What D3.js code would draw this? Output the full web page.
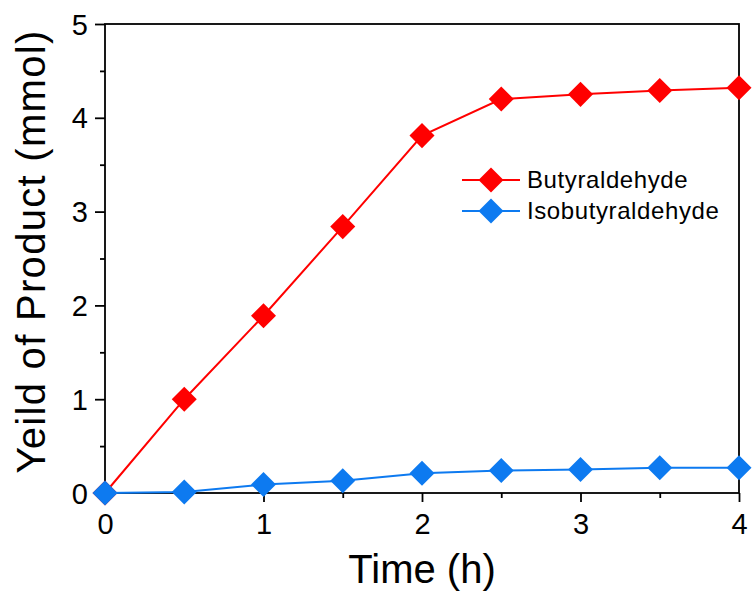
<!DOCTYPE html>
<html>
<head>
<meta charset="utf-8">
<script src="https://cdn.jsdelivr.net/npm/d3@7"></script>
<style>
  body { margin: 0; background: #fff; }
  text { font-family: "Liberation Sans", Arial, sans-serif; fill: #000; }
</style>
</head>
<body>
<div id="chart"></div>
<script>
// data
const hours = [0, 0.5, 1, 1.5, 2, 2.5, 3, 3.5, 4];
const butyraldehyde = [0, 1.0, 1.89, 2.84, 3.81, 4.2, 4.25, 4.29, 4.32];
const isobutyraldehyde = [0, 0.01, 0.09, 0.13, 0.21, 0.24, 0.25, 0.27, 0.27];
const xTicks = [0, 1, 2, 3, 4];
const yTicks = [0, 1, 2, 3, 4, 5];
const seriesNames = ["Butyraldehyde", "Isobutyraldehyde"];
const seriesColors = ["#ff0000", "#0d7af0"];

const W = 755, H = 594;
const margin = {top: 24, right: 16, bottom: 101, left: 105};
const width = W - margin.left - margin.right,
      height = H - margin.top - margin.bottom;

const svg = d3.select("#chart").append("svg")
    .attr("width", W).attr("height", H)
  .append("g")
    .attr("transform", "translate(" + margin.left + "," + margin.top + ")");

const x = d3.scaleLinear().domain([0, 4]).range([0, width]);
const y = d3.scaleLinear().domain([0, 5]).range([height, 0]);

// frame
svg.append("rect")
    .attr("width", width).attr("height", height)
    .attr("fill", "none").attr("stroke", "#000").attr("stroke-width", 1.8);

// x axis
const gx = svg.append("g").attr("transform", "translate(0," + height + ")");
gx.call(d3.axisBottom(x).tickValues(xTicks).tickSize(9).tickPadding(11).tickFormat(d3.format("d")));
gx.append("g").call(d3.axisBottom(x).tickValues(d3.range(0.5, 4, 1)).tickSize(5).tickFormat(""));
// y axis
const gy = svg.append("g");
gy.call(d3.axisLeft(y).tickValues(yTicks).tickSize(10).tickPadding(7).tickFormat(d3.format("d")));
gy.append("g").call(d3.axisLeft(y).tickValues(d3.range(0.5, 5, 1)).tickSize(5).tickFormat(""));

svg.selectAll(".domain").remove();
svg.selectAll(".tick line").attr("stroke", "#000").attr("stroke-width", 1.8);
svg.selectAll(".tick text")
    .style("font-size", "29px")
    .style("font-family", "'Liberation Sans', Arial, sans-serif");
gy.selectAll(".tick text").attr("dy", "0.35em");

// axis titles
svg.append("text")
    .attr("x", width / 2).attr("y", height + 90)
    .attr("text-anchor", "middle")
    .style("font-size", "40px")
    .text("Time (h)");
svg.append("text")
    .attr("transform", "translate(" + (-60) + "," + (height / 2 - 7) + ") rotate(-90)")
    .attr("text-anchor", "middle")
    .style("font-size", "40px")
    .style("letter-spacing", "1.3px")
    .text("Yeild of Product (mmol)");

const series = [butyraldehyde, isobutyraldehyde];
const line = d3.line().x(function (d, i) { return x(hours[i]); }).y(function (d) { return y(d); });
const diamond = d3.symbol().type(d3.symbolDiamond2).size(400);

series.forEach(function (vals, k) {
    svg.append("path")
        .datum(vals)
        .attr("fill", "none")
        .attr("stroke", seriesColors[k])
        .attr("stroke-width", 2)
        .attr("d", line);
    svg.selectAll(".pt" + k)
        .data(vals)
        .enter()
        .append("path")
        .attr("transform", function (d, i) { return "translate(" + x(hours[i]) + "," + y(d) + ")"; })
        .attr("d", diamond)
        .attr("fill", seriesColors[k]);
});

// legend
const legend = svg.append("g").attr("transform", "translate(357,156)");
seriesNames.forEach(function (name, k) {
    const g = legend.append("g").attr("transform", "translate(0," + (k * 31) + ")");
    g.append("line").attr("x1", 0).attr("x2", 58).attr("stroke", seriesColors[k]).attr("stroke-width", 2);
    g.append("path").attr("transform", "translate(29,0)").attr("d", diamond).attr("fill", seriesColors[k]);
    g.append("text").attr("x", 65).attr("dy", "0.35em")
        .style("font-size", "24px").style("letter-spacing", "0.6px").text(name);
});
</script>
</body>
</html>
